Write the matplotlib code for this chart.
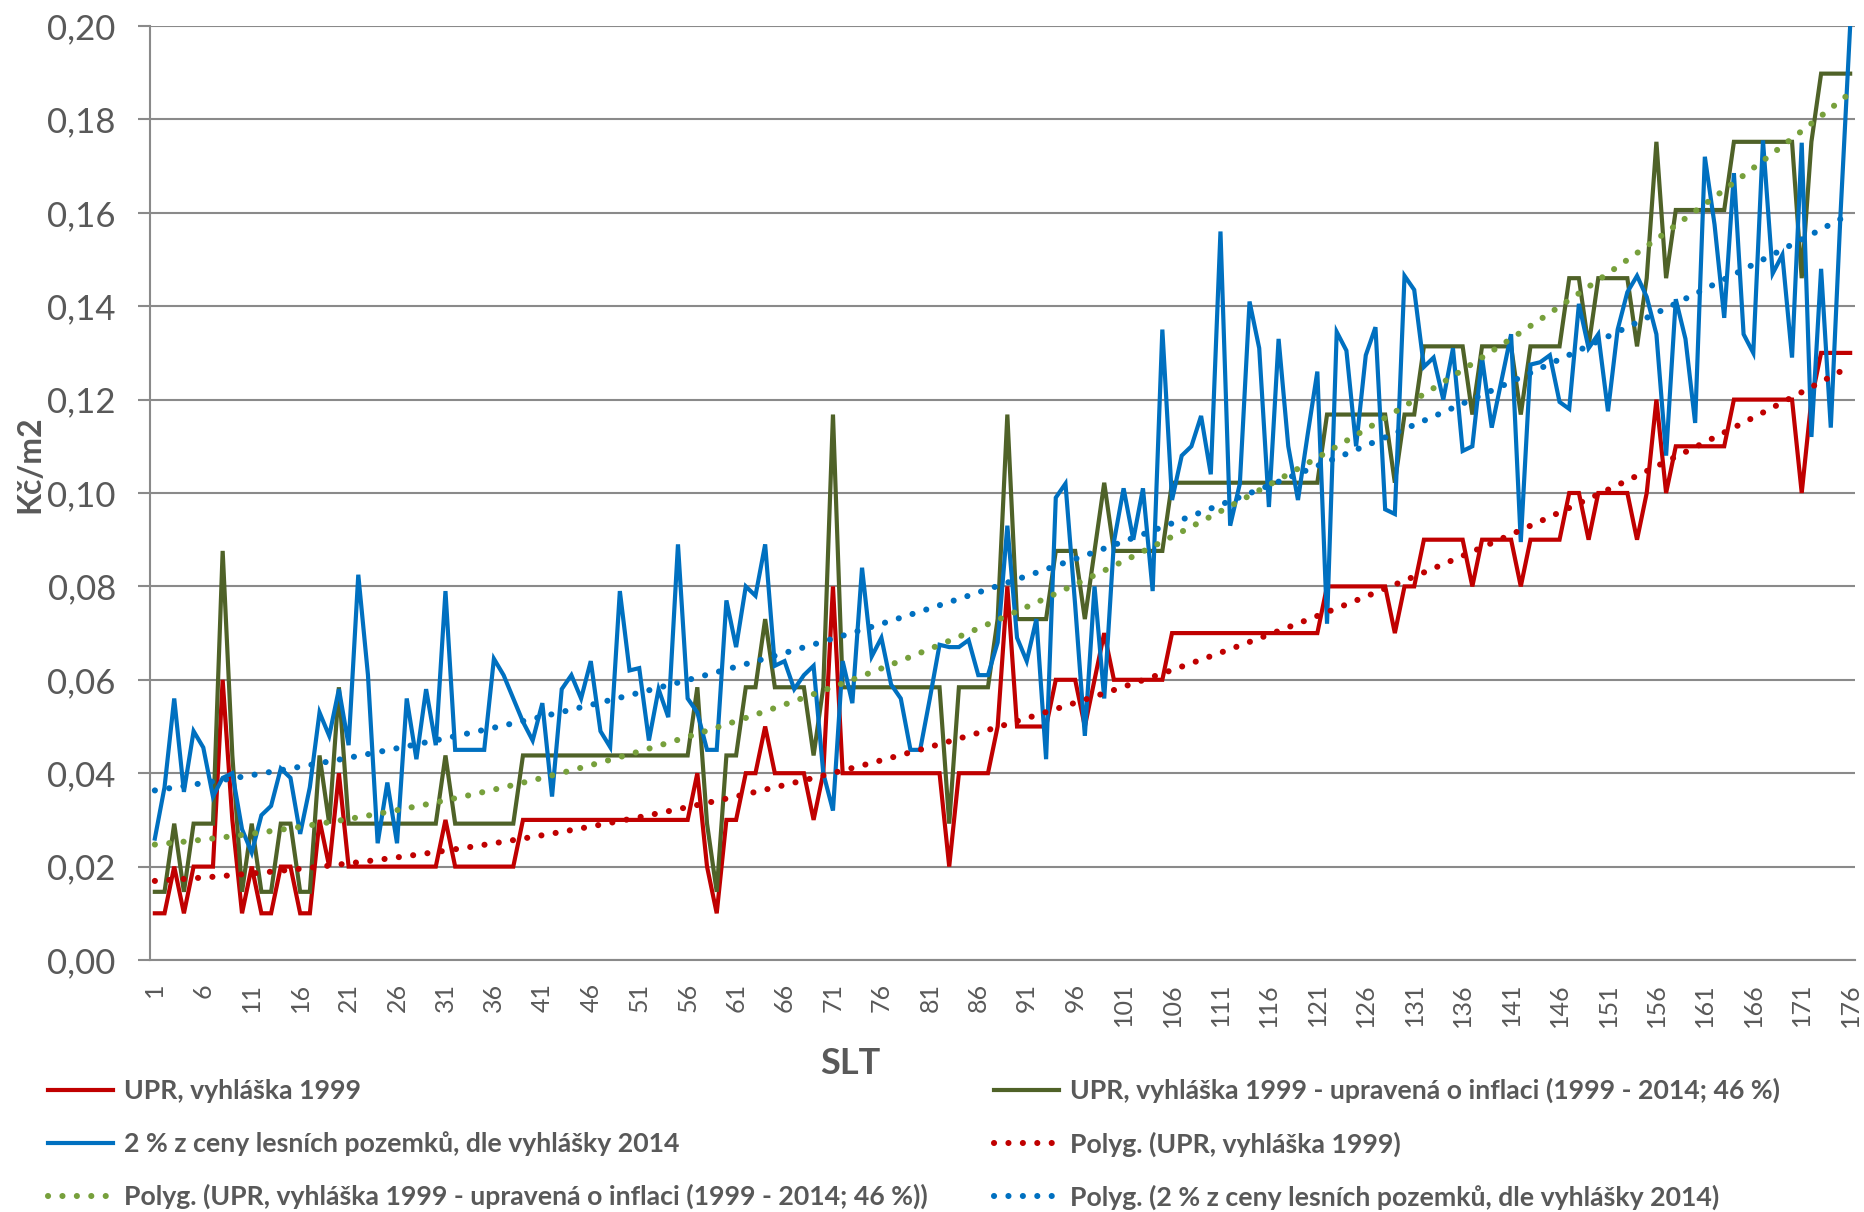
import matplotlib
matplotlib.use("Agg")
import matplotlib.pyplot as plt
import numpy as np

plt.rcParams["font.family"] = ["Lato", "DejaVu Sans"]

# --- data (SLT 1..176, Kč/m2) ---
slt = list(range(1, 177))

upr_1999 = [
    0.01, 0.01, 0.02, 0.01, 0.02, 0.02, 0.02, 0.06, 0.03, 0.01,
    0.02, 0.01, 0.01, 0.02, 0.02, 0.01, 0.01, 0.03, 0.02, 0.04,
    0.02, 0.02, 0.02, 0.02, 0.02, 0.02, 0.02, 0.02, 0.02, 0.02,
    0.03, 0.02, 0.02, 0.02, 0.02, 0.02, 0.02, 0.02, 0.03, 0.03,
    0.03, 0.03, 0.03, 0.03, 0.03, 0.03, 0.03, 0.03, 0.03, 0.03,
    0.03, 0.03, 0.03, 0.03, 0.03, 0.03, 0.04, 0.02, 0.01, 0.03,
    0.03, 0.04, 0.04, 0.05, 0.04, 0.04, 0.04, 0.04, 0.03, 0.04,
    0.08, 0.04, 0.04, 0.04, 0.04, 0.04, 0.04, 0.04, 0.04, 0.04,
    0.04, 0.04, 0.02, 0.04, 0.04, 0.04, 0.04, 0.05, 0.08, 0.05,
    0.05, 0.05, 0.05, 0.06, 0.06, 0.06, 0.05, 0.06, 0.07, 0.06,
    0.06, 0.06, 0.06, 0.06, 0.06, 0.07, 0.07, 0.07, 0.07, 0.07,
    0.07, 0.07, 0.07, 0.07, 0.07, 0.07, 0.07, 0.07, 0.07, 0.07,
    0.07, 0.08, 0.08, 0.08, 0.08, 0.08, 0.08, 0.08, 0.07, 0.08,
    0.08, 0.09, 0.09, 0.09, 0.09, 0.09, 0.08, 0.09, 0.09, 0.09,
    0.09, 0.08, 0.09, 0.09, 0.09, 0.09, 0.10, 0.10, 0.09, 0.10,
    0.10, 0.10, 0.10, 0.09, 0.10, 0.12, 0.10, 0.11, 0.11, 0.11,
    0.11, 0.11, 0.11, 0.12, 0.12, 0.12, 0.12, 0.12, 0.12, 0.12,
    0.10, 0.12, 0.13, 0.13, 0.13, 0.13,
]

upr_inflace = [
    0.0146, 0.0146, 0.0292, 0.0146, 0.0292, 0.0292, 0.0292, 0.0876, 0.0438, 0.0146,
    0.0292, 0.0146, 0.0146, 0.0292, 0.0292, 0.0146, 0.0146, 0.0438, 0.0292, 0.0584,
    0.0292, 0.0292, 0.0292, 0.0292, 0.0292, 0.0292, 0.0292, 0.0292, 0.0292, 0.0292,
    0.0438, 0.0292, 0.0292, 0.0292, 0.0292, 0.0292, 0.0292, 0.0292, 0.0438, 0.0438,
    0.0438, 0.0438, 0.0438, 0.0438, 0.0438, 0.0438, 0.0438, 0.0438, 0.0438, 0.0438,
    0.0438, 0.0438, 0.0438, 0.0438, 0.0438, 0.0438, 0.0584, 0.0292, 0.0146, 0.0438,
    0.0438, 0.0584, 0.0584, 0.0730, 0.0584, 0.0584, 0.0584, 0.0584, 0.0438, 0.0584,
    0.1168, 0.0584, 0.0584, 0.0584, 0.0584, 0.0584, 0.0584, 0.0584, 0.0584, 0.0584,
    0.0584, 0.0584, 0.0292, 0.0584, 0.0584, 0.0584, 0.0584, 0.0730, 0.1168, 0.0730,
    0.0730, 0.0730, 0.0730, 0.0876, 0.0876, 0.0876, 0.0730, 0.0876, 0.1022, 0.0876,
    0.0876, 0.0876, 0.0876, 0.0876, 0.0876, 0.1022, 0.1022, 0.1022, 0.1022, 0.1022,
    0.1022, 0.1022, 0.1022, 0.1022, 0.1022, 0.1022, 0.1022, 0.1022, 0.1022, 0.1022,
    0.1022, 0.1168, 0.1168, 0.1168, 0.1168, 0.1168, 0.1168, 0.1168, 0.1022, 0.1168,
    0.1168, 0.1314, 0.1314, 0.1314, 0.1314, 0.1314, 0.1168, 0.1314, 0.1314, 0.1314,
    0.1314, 0.1168, 0.1314, 0.1314, 0.1314, 0.1314, 0.1460, 0.1460, 0.1314, 0.1460,
    0.1460, 0.1460, 0.1460, 0.1314, 0.1460, 0.1752, 0.1460, 0.1606, 0.1606, 0.1606,
    0.1606, 0.1606, 0.1606, 0.1752, 0.1752, 0.1752, 0.1752, 0.1752, 0.1752, 0.1752,
    0.1460, 0.1752, 0.1898, 0.1898, 0.1898, 0.1898,
]

pozemky_2014 = [
    0.026, 0.037, 0.056, 0.036, 0.049, 0.0455, 0.035, 0.039, 0.040, 0.028,
    0.023, 0.031, 0.033, 0.041, 0.039, 0.027, 0.037, 0.053, 0.048, 0.058,
    0.046, 0.0825, 0.061, 0.025, 0.038, 0.025, 0.056, 0.043, 0.058, 0.046,
    0.079, 0.045, 0.045, 0.045, 0.045, 0.0645, 0.061, 0.056, 0.051, 0.047,
    0.055, 0.035, 0.058, 0.061, 0.056, 0.064, 0.049, 0.0456, 0.079, 0.062,
    0.0625, 0.047, 0.058, 0.052, 0.089, 0.056, 0.053, 0.045, 0.045, 0.077,
    0.067, 0.080, 0.078, 0.089, 0.063, 0.064, 0.058, 0.061, 0.063, 0.040,
    0.032, 0.064, 0.055, 0.084, 0.065, 0.069, 0.059, 0.056, 0.045, 0.045,
    0.056, 0.0675, 0.067, 0.067, 0.0685, 0.061, 0.061, 0.068, 0.093, 0.069,
    0.064, 0.073, 0.043, 0.099, 0.102, 0.076, 0.048, 0.080, 0.056, 0.0895,
    0.101, 0.090, 0.101, 0.079, 0.135, 0.0985, 0.108, 0.110, 0.1165, 0.104,
    0.156, 0.093, 0.102, 0.141, 0.131, 0.097, 0.133, 0.110, 0.0985, 0.1125,
    0.126, 0.072, 0.1345, 0.1305, 0.110, 0.1295, 0.1355, 0.0965, 0.0955, 0.1465,
    0.1435, 0.127, 0.129, 0.120, 0.131, 0.109, 0.110, 0.129, 0.114, 0.124,
    0.134, 0.0895, 0.1275, 0.128, 0.1295, 0.1195, 0.118, 0.1405, 0.131, 0.134,
    0.1175, 0.135, 0.143, 0.1465, 0.142, 0.134, 0.108, 0.1415, 0.133, 0.115,
    0.172, 0.1575, 0.1375, 0.1685, 0.134, 0.130, 0.1755, 0.147, 0.151, 0.129,
    0.175, 0.112, 0.148, 0.114, 0.1595, 0.200,
]

labels = [
    "UPR, vyhláška 1999",
    "UPR, vyhláška 1999 - upravená o inflaci (1999 - 2014; 46 %)",
    "2 % z ceny lesních pozemků, dle vyhlášky 2014",
]
colors = ["#C00000", "#4F6228", "#0070C0"]
trend_colors = ["#C00000", "#77A03C", "#0070C0"]

GRAY = "#595959"
AXIS_GRAY = "#8A8A8A"

fig = plt.figure(figsize=(18.64, 12.12), dpi=100)
ax = fig.add_axes([150 / 1864, 1 - 960 / 1212, 1705 / 1864, 934 / 1212])

x = np.array(slt)
series = [upr_1999, upr_inflace, pozemky_2014]

line_handles = []
for vals, col, lab in zip(series, colors, labels):
    (h,) = ax.plot(x, vals, color=col, lw=3.0, solid_joinstyle="miter", label=lab, zorder=3)
    line_handles.append(h)

# Excel "Polyg." trendlines (2nd order polynomial fit)
dot_style = (0, (0.01, 2.35))
trend_handles = []
for vals, col, lab in zip(series, trend_colors, labels):
    coef = np.polyfit(x, vals, 2)
    xs = np.linspace(1, 176, 600)
    (h,) = ax.plot(xs, np.polyval(coef, xs), color=col, lw=4.4, linestyle=dot_style,
                   dash_capstyle="round", label=f"Polyg. ({lab})", zorder=4)
    trend_handles.append(h)

ax.set_xlim(0.5, 176.5)
ax.set_ylim(0, 0.2)
yt = np.arange(0, 0.2001, 0.02)
ax.set_yticks(yt)
ax.set_yticklabels([f"{v:.2f}".replace(".", ",") for v in yt])
ax.set_xticks(slt[::5])
ax.set_xticklabels([str(v) for v in slt[::5]], rotation=90)

ax.grid(axis="y", color=AXIS_GRAY, lw=1.5)
ax.set_axisbelow(True)
for side in ("top", "right"):
    ax.spines[side].set_visible(False)
for side in ("left", "bottom"):
    ax.spines[side].set_color(AXIS_GRAY)
    ax.spines[side].set_linewidth(1.5)

ax.tick_params(axis="y", direction="out", length=8.6, width=1.5, color=AXIS_GRAY,
               pad=16, labelsize=25, labelcolor=GRAY)
ax.tick_params(axis="x", length=0, pad=16.5, labelsize=18, labelcolor=GRAY)

fig.text(850 / 1864, 1 - 1064 / 1212, "SLT", ha="center", va="center",
         fontsize=26, fontweight="bold", color=GRAY)
fig.text(30 / 1864, 1 - 464 / 1212, "Kč/m2", ha="center", va="center", rotation=90,
         fontsize=23, fontweight="bold", color=GRAY)

# legend laid out row-wise like the original (ncol=2 fills column-first)
handles = [line_handles[0], line_handles[2], trend_handles[1],
           line_handles[1], trend_handles[0], trend_handles[2]]
fig.legend(handles=handles, labels=[h.get_label() for h in handles],
           loc="upper left", bbox_to_anchor=(48 / 1864, 1 - 1078 / 1212),
           ncol=2, frameon=False, prop={"weight": "bold", "size": 19.2},
           labelcolor=GRAY, handlelength=2.43, handletextpad=0.42,
           columnspacing=2.5, labelspacing=1.05, borderpad=0, borderaxespad=0)

fig.savefig("out.png", dpi=100)
